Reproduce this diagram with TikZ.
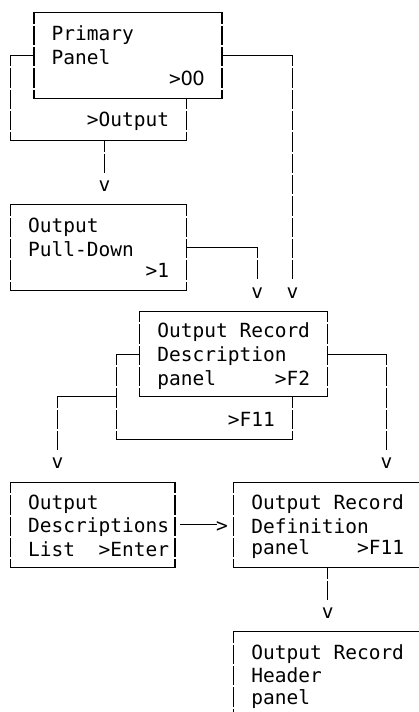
\documentclass[tikz,border=0pt]{standalone}
\usepackage{fontspec}
\newfontfamily\dmono{DejaVu Sans Mono}
\newfontfamily\dsans{DejaVu Sans}
\newcommand\rs{\rule[-2.67pt]{0pt}{21.34pt}}
\newcommand\sk{\hspace*{11.75pt}}
\newcommand\zr{\makebox[11.75pt][c]{\dsans 0}}
\tikzset{
  cellfont/.style={font=\dmono\fontsize{19.5pt}{21.34pt}\selectfont},
  panelbox/.style={cellfont, rectangle, inner ysep=0pt, inner xsep=17.625pt, outer sep=0pt, align=left, minimum height=85.36pt},
  lbl/.style={cellfont, inner sep=0pt, outer sep=0pt},
  hconn/.style={line width=1.1pt, line cap=rect},
  vconn/.style={line width=1.2pt, dash pattern=on 19.34pt off 2pt, dash phase=8.34pt}
}
\newcommand\panelframe[1]{%
  \draw[hconn] (#1.north west) -- (#1.north east);
  \draw[hconn] (#1.south west) -- (#1.south east);
  \draw[vconn] (#1.north west) -- (#1.south west);
  \draw[vconn] (#1.north east) -- (#1.south east);}
\begin{document}
\begin{tikzpicture}[x=11.75pt,y=-21.34pt]
\useasboundingbox (-0.8936,-0.5951) rectangle (34.766,32.770);
\clip (-0.8936,-0.5951) rectangle (34.766,32.770);
% panels
\node[panelbox, text width=152.75pt] (primary) at (10,2) {\noindent\rs Primary\\\rs Panel\\\rs\hfill>\zr\zr};
\node[panelbox, text width=141pt] (pull) at (7.5,11) {\noindent\rs Output\\\rs Pull-Down\\\rs\hfill>1};
\node[panelbox, text width=152.75pt] (desc) at (19,16) {\noindent\rs\mbox{Output\sk Record}\\\rs Description\\\rs panel\hfill>F2};
\node[panelbox, text width=129.25pt] (list) at (7,24) {\noindent\rs Output\\\rs\mbox{Descriptions}\\\rs\mbox{List\sk\sk>Enter}};
\node[panelbox, text width=152.75pt] (defn) at (27,24) {\noindent\rs\mbox{Output\sk Record}\\\rs Definition\\\rs panel\hfill>F11};
\node[panelbox, text width=152.75pt] (hdr) at (27,31) {\noindent\rs\mbox{Output\sk Record}\\\rs Header\\\rs panel};
\panelframe{primary}
\panelframe{pull}
\panelframe{desc}
\panelframe{list}
\panelframe{defn}
\panelframe{hdr}
% labels
\node[lbl] (outlbl) at (10,5) {\rs>Output};
\node[lbl] (f11lbl) at (20.5,19) {\rs>F11};
% arrow tips
\node[lbl] (t1) at (8,8) {\rs v};
\node[lbl] (t2) at (21,13) {\rs v};
\node[lbl] (t3) at (24,13) {\rs v};
\node[lbl] (t4) at (4,21) {\rs v};
\node[lbl] (t5) at (32,21) {\rs v};
\node[lbl] (t6) at (27,28) {\rs v};
\node[lbl] (t7) at (18,24) {\rs>};
% connectors
\coordinate (pl1) at (0,6);
\coordinate (pl2) at (15,6);
\draw[hconn] (primary.west) -- (pl1 |- primary.west);
\draw[vconn] (pl1 |- primary.west) -- (pl1);
\draw[hconn] (pl1) -- (pl2);
\draw[vconn] (pl2 |- primary.south) -- (pl2);
\draw[vconn] (t1 |- pl1) -- (t1.north);
\draw[hconn] (primary.east) -- (t3 |- primary.east);
\draw[vconn] (t3 |- primary.east) -- (t3.north);
\draw[hconn] (pull.east) -- (t2 |- pull.east);
\draw[vconn] (t2 |- pull.east) -- (t2.north);
\coordinate (dl1) at (9,20);
\coordinate (dl2) at (24,20);
\draw[hconn] (desc.west) -- (dl1 |- desc.west);
\draw[vconn] (dl1 |- desc.west) -- (dl1);
\draw[hconn] (dl1) -- (dl2);
\draw[vconn] (dl2 |- desc.south) -- (dl2);
\draw[hconn] (dl1 |- desc.south) -- (t4 |- desc.south);
\draw[vconn] (t4 |- desc.south) -- (t4.north);
\draw[hconn] (desc.east) -- (t5 |- desc.east);
\draw[vconn] (t5 |- desc.east) -- (t5.north);
\draw[hconn] ([xshift=5.875pt]list.east) -- (t7.west);
\draw[vconn] (defn.south) -- (t6.north);
\end{tikzpicture}
\end{document}
